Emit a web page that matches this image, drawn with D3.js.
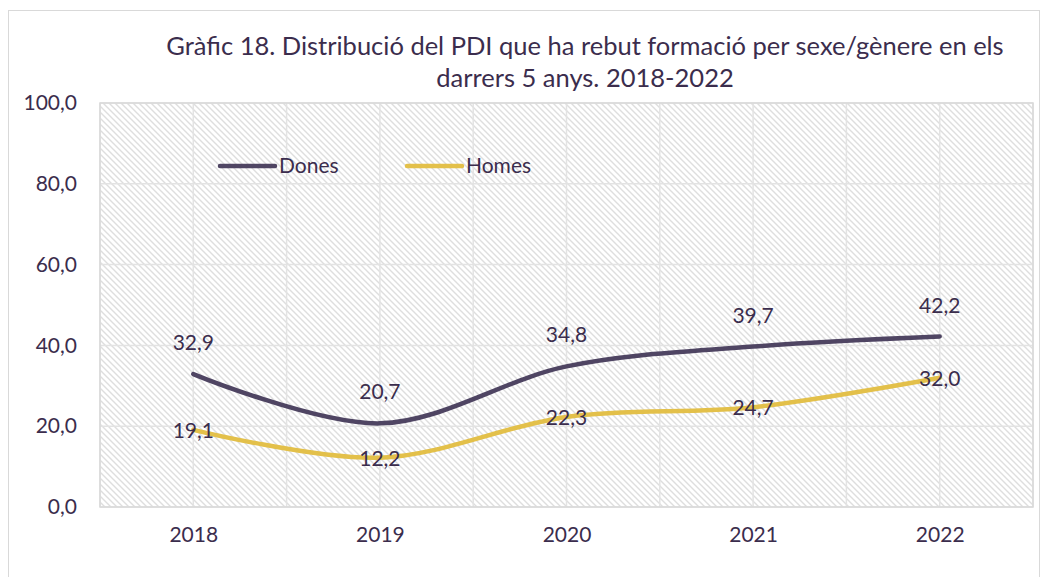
<!DOCTYPE html>
<html>
<head>
<meta charset="utf-8">
<script src="https://cdn.jsdelivr.net/npm/d3@7"></script>
<style>
  body { margin: 0; background: #fff; }
  text { font-family: Lato, "Open Sans", sans-serif; fill: #3b2d4d; }
</style>
</head>
<body>
<div id="chart"></div>
<script>
/* global d3 */

// data
var years = ["2018", "2019", "2020", "2021", "2022"];
var dones = [32.9, 20.7, 34.8, 39.7, 42.2];
var homes = [19.1, 12.2, 22.3, 24.7, 32.0];
var yTicks = [0, 20, 40, 60, 80, 100];
var titleLines = [
  "Gràfic 18. Distribució del PDI que ha rebut formació per sexe/gènere en els",
  "darrers 5 anys. 2018-2022"
];
var seriesNames = ["Dones", "Homes"];
var seriesColors = ["#4f4563", "#e3c04a"];

var width = 1049;
var height = 577;
var plot = { left: 100, top: 103, right: 1033, bottom: 507 };

var svg = d3
  .select("#chart")
  .append("svg")
  .attr("width", width)
  .attr("height", height);

// hatch for the plot area
var defs = svg.append("defs");
var pattern = defs
  .append("pattern")
  .attr("id", "hatch")
  .attr("patternUnits", "userSpaceOnUse")
  .attr("width", 6)
  .attr("height", 6);
pattern
  .append("rect")
  .attr("width", 6)
  .attr("height", 6)
  .attr("fill", "#fff");
pattern
  .append("path")
  .attr("d", "M-1,-1 L7,7 M-4,2 L2,8 M4,-2 L8,2")
  .attr("stroke", "#dedede")
  .attr("stroke-width", 1.4);

// outer chart border
svg
  .append("rect")
  .attr("x", 8.5)
  .attr("y", 10.5)
  .attr("width", 1031)
  .attr("height", 600)
  .attr("fill", "#fff")
  .attr("stroke", "#d9d9d9");

var x = d3
  .scalePoint()
  .domain(years)
  .range([plot.left, plot.right])
  .padding(0.5);

var y = d3
  .scaleLinear()
  .domain([0, 100])
  .range([plot.bottom, plot.top]);

svg
  .append("rect")
  .attr("x", plot.left)
  .attr("y", plot.top)
  .attr("width", plot.right - plot.left)
  .attr("height", plot.bottom - plot.top)
  .attr("fill", "url(#hatch)");

// gridlines
var g = svg.append("g");
var step = x.step() / 2;
var vLines = d3.range(0, years.length * 2 + 1).map(function(i) {
  return plot.left + i * step;
});
g.selectAll(".vgrid")
  .data(vLines)
  .enter()
  .append("line")
  .attr("x1", function(d) { return d; })
  .attr("x2", function(d) { return d; })
  .attr("y1", plot.top)
  .attr("y2", plot.bottom)
  .attr("stroke", "#e3e3e3")
  .attr("stroke-width", 1.5);
g.selectAll(".hgrid")
  .data(yTicks)
  .enter()
  .append("line")
  .attr("x1", plot.left)
  .attr("x2", plot.right)
  .attr("y1", function(d) { return y(d); })
  .attr("y2", function(d) { return y(d); })
  .attr("stroke", "#e3e3e3")
  .attr("stroke-width", 1.5);

// plot frame
svg
  .append("rect")
  .attr("x", plot.left)
  .attr("y", plot.top)
  .attr("width", plot.right - plot.left)
  .attr("height", plot.bottom - plot.top)
  .attr("fill", "none")
  .attr("stroke", "#d9d9d9")
  .attr("stroke-width", 1.5);

var fmt = function(v) {
  return d3.format(".1f")(v).replace(".", ",");
};

// axes
var yAxis = d3
  .axisLeft(y)
  .tickValues(yTicks)
  .tickFormat(fmt)
  .tickSize(0)
  .tickPadding(23);
svg
  .append("g")
  .attr("transform", "translate(" + plot.left + ",0)")
  .call(yAxis)
  .call(function(a) {
    a.select(".domain").remove();
    a.selectAll("text")
      .style("font-size", "21px")
      .style("font-family", "Lato, sans-serif")
      .attr("fill", "#3b2d4d");
  });

var xAxis = d3.axisBottom(x).tickSize(0).tickPadding(20);
svg
  .append("g")
  .attr("transform", "translate(0," + plot.bottom + ")")
  .call(xAxis)
  .call(function(a) {
    a.select(".domain").remove();
    a.selectAll("text")
      .style("font-size", "21px")
      .style("font-family", "Lato, sans-serif")
      .attr("fill", "#3b2d4d");
  });

// lines
var line = d3
  .line()
  .x(function(d, i) { return x(years[i]); })
  .y(function(d) { return y(d); })
  .curve(d3.curveCardinal.tension(0));

[dones, homes].forEach(function(values, k) {
  svg
    .append("path")
    .attr("d", line(values))
    .attr("fill", "none")
    .attr("stroke", seriesColors[k])
    .attr("stroke-width", 4.5)
    .attr("stroke-linecap", "round");
});

// data labels: Dones above the point, Homes centred on it
svg
  .selectAll(".lblD")
  .data(dones)
  .enter()
  .append("text")
  .attr("x", function(d, i) { return x(years[i]); })
  .attr("y", function(d) { return y(d) - 24; })
  .attr("text-anchor", "middle")
  .style("font-size", "21px")
  .text(fmt);

svg
  .selectAll(".lblH")
  .data(homes)
  .enter()
  .append("text")
  .attr("x", function(d, i) { return x(years[i]); })
  .attr("y", function(d) { return y(d) + 8; })
  .attr("text-anchor", "middle")
  .style("font-size", "21px")
  .text(fmt);

// legend
var legendX = [220, 407];
seriesNames.forEach(function(name, k) {
  svg
    .append("line")
    .attr("x1", legendX[k])
    .attr("x2", legendX[k] + 55)
    .attr("y1", 166)
    .attr("y2", 166)
    .attr("stroke", seriesColors[k])
    .attr("stroke-width", 4.5)
    .attr("stroke-linecap", "round");
  svg
    .append("text")
    .attr("x", legendX[k] + 59)
    .attr("y", 173)
    .style("font-size", "21px")
    .text(name);
});

// title
svg
  .selectAll(".title")
  .data(titleLines)
  .enter()
  .append("text")
  .attr("x", 585)
  .attr("y", function(d, i) { return 55 + i * 32; })
  .attr("text-anchor", "middle")
  .style("font-size", "25.5px")
  .text(function(d) { return d; });
</script>
</body>
</html>
